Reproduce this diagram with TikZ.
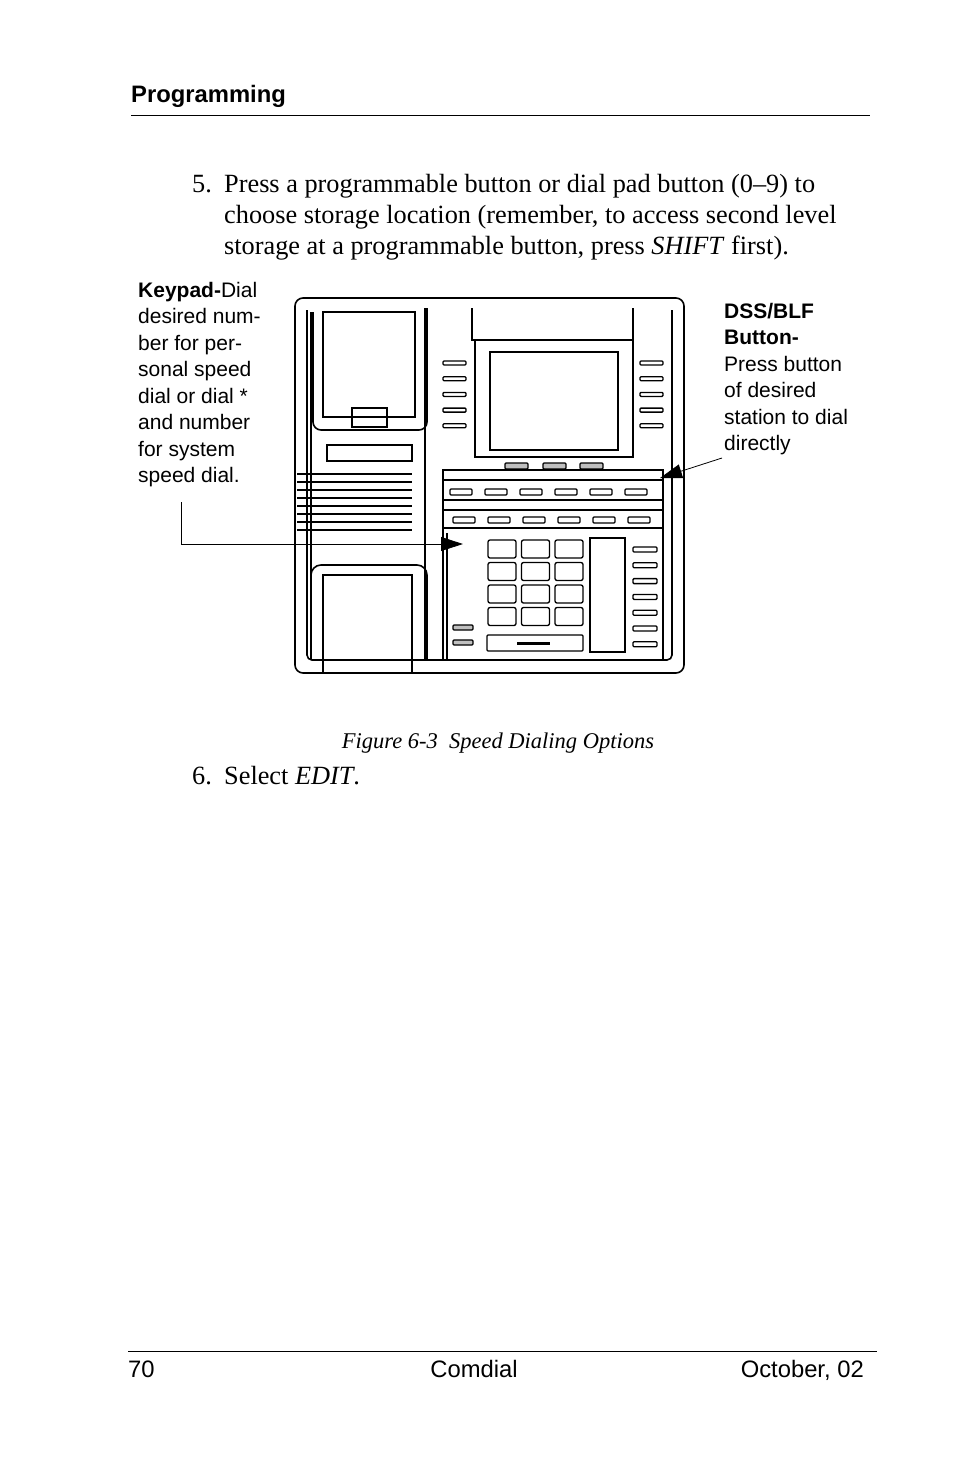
\documentclass[tikz,border=0pt]{standalone}
\usepackage{fontspec}
\setmainfont{Liberation Serif}
\setsansfont{Liberation Sans}
\usetikzlibrary{arrows.meta}
\begin{document}
\begin{tikzpicture}%
	[x=1pt, y=-1pt,
	body/.style={font=\fontsize{26.3}{31}\selectfont, anchor=base west, inner sep=0pt},
	lbl/.style={font=\sffamily\fontsize{21}{26.5}\selectfont, anchor=north west, inner sep=0pt, align=left},
	foot/.style={font=\sffamily\fontsize{23.8}{28}\selectfont, anchor=base, inner sep=0pt},
	part/.style={draw=black, line width=1.6pt},
	btn/.style={draw=black, line width=1.3pt, rounded corners=1pt},
	pointer/.style={draw=black, line width=0.8pt, -{Triangle[length=22pt, width=14pt]}}]
%
\useasboundingbox (0,0) rectangle (954,1475);
%
%% Page head and text
%%
\node[body, font=\sffamily\bfseries\fontsize{23.8}{28}\selectfont] (head) at (131,102) {Programming};
\draw[line width=0.7pt] (131,115) -- (870,115);
\node[body] (n5) at (192,192) {5.};
\node[body] (t5a) at (224,192) {Press a programmable button or dial pad button (0--9) to};
\node[body] (t5b) at (224,223) {choose storage location (remember, to access second level};
\node[body] (t5c) at (224,254) {storage at a programmable button, press \textit{SHIFT} first).};
%
%% Labels
%%
\node[lbl] (keylbl) at (138,282) {\textbf{Keypad-}Dial\\desired num-\\ber for per-\\sonal speed\\dial or dial *\\and number\\for system\\speed dial.};
\node[lbl] (dsslbl) at (724,303) {\textbf{DSS/BLF}\\\textbf{Button-}\\Press button\\of desired\\station to dial\\directly};
%
%% Telephone body
%%
\draw[part, rounded corners=8pt] (295,298) rectangle (684,673);
\draw[part, rounded corners=5pt] (307,310) -- (307,660) -- (672,660) -- (672,310);
\draw[part] (311,312) -- (311,660);
% upper handset cradle
\draw[part, rounded corners=8pt] (313,312) -- (313,430) -- (427,430) -- (427,308);
\draw[part] (323,312) rectangle (415,417);
\draw[part] (352,408) rectangle (387,427);
\draw[part] (327,445) rectangle (412,461);
% speaker grill
\foreach \gy in {474,482,490,498,506,514,522,530}
	\draw[line width=2.2pt] (297,\gy) -- (412,\gy);
% lower handset cradle
\draw[part, rounded corners=10pt] (311,660) -- (311,565) -- (427,565) -- (427,660);
\draw[part] (323,672) -- (323,575) -- (412,575) -- (412,672);
\draw[part] (425,308) -- (425,660);
% display housing
\draw[part] (472,308) -- (472,340) -- (633,340) -- (633,308);
\draw[part] (475,340) rectangle (633,457);
\draw[part] (490,352) rectangle (618,450);
\draw[part] (633,320) -- (633,457);
\foreach \bx in {505,543,580}
	\draw[btn, fill=black!25] (\bx,463) rectangle ++(23,6);
% side buttons of the display
\foreach \k in {0,...,4} {
	\draw[btn] (443,{361+15.7*\k}) rectangle ++(23,4);
	\draw[btn] (640,{361+15.7*\k}) rectangle ++(23,4);
}
% keypad housing
\draw[part] (443,660) -- (443,470) -- (663,470) -- (663,660);
\draw[part] (443,480) -- (663,480);
\draw[part] (443,500) -- (663,500);
\draw[part] (443,510) -- (663,510);
\draw[part] (443,528) -- (663,528);
\draw[part] (447,533) -- (447,660);
\foreach \k in {0,...,5} {
	\draw[btn] ({450+35*\k},489) rectangle ++(22,6);
	\draw[btn] ({453+35*\k},517) rectangle ++(22,6);
}
% dial pad
\foreach \c in {0,1,2}
	\foreach \r in {0,1,2,3}
		\draw[btn, rounded corners=2pt] ({488+33.5*\c},{540+22.5*\r}) rectangle ++(28,18);
\draw[btn] (487,635) rectangle (583,651);
\draw[line width=3pt] (517,643) -- (550,643);
\foreach \by in {625,640}
	\draw[btn, fill=black!25] (453,\by) rectangle ++(20,5);
% feature column
\draw[part] (590,538) rectangle (625,652);
\foreach \k in {0,...,6}
	\draw[btn] (633,{547+15.8*\k}) rectangle ++(24,5);
%
%% Pointers
%%
\coordinate (keyend) at (181,502);
\coordinate (keytip) at (463,544);
\coordinate (dssend) at (722,458);
\coordinate (dsstip) at (660,478);
\draw[pointer] (keyend) |- (keytip);
\draw[pointer] (dssend) -- (dsstip);
%
%% Caption and next step
%%
\node[body, anchor=base, font=\itshape\fontsize{22.5}{26}\selectfont] (cap) at (498,748) {Figure 6-3\ \ Speed Dialing Options};
\node[body] (n6) at (192,784) {6.};
\node[body] (t6) at (224,784) {Select \textit{EDIT}.};
%
%% Page foot
%%
\draw[line width=0.7pt] (128,1351) -- (877,1351);
\node[foot, anchor=base west] (page) at (128,1377) {70};
\node[foot] (firm) at (474,1377) {Comdial};
\node[foot, anchor=base east] (date) at (864,1377) {October, 02};
\end{tikzpicture}
\end{document}
